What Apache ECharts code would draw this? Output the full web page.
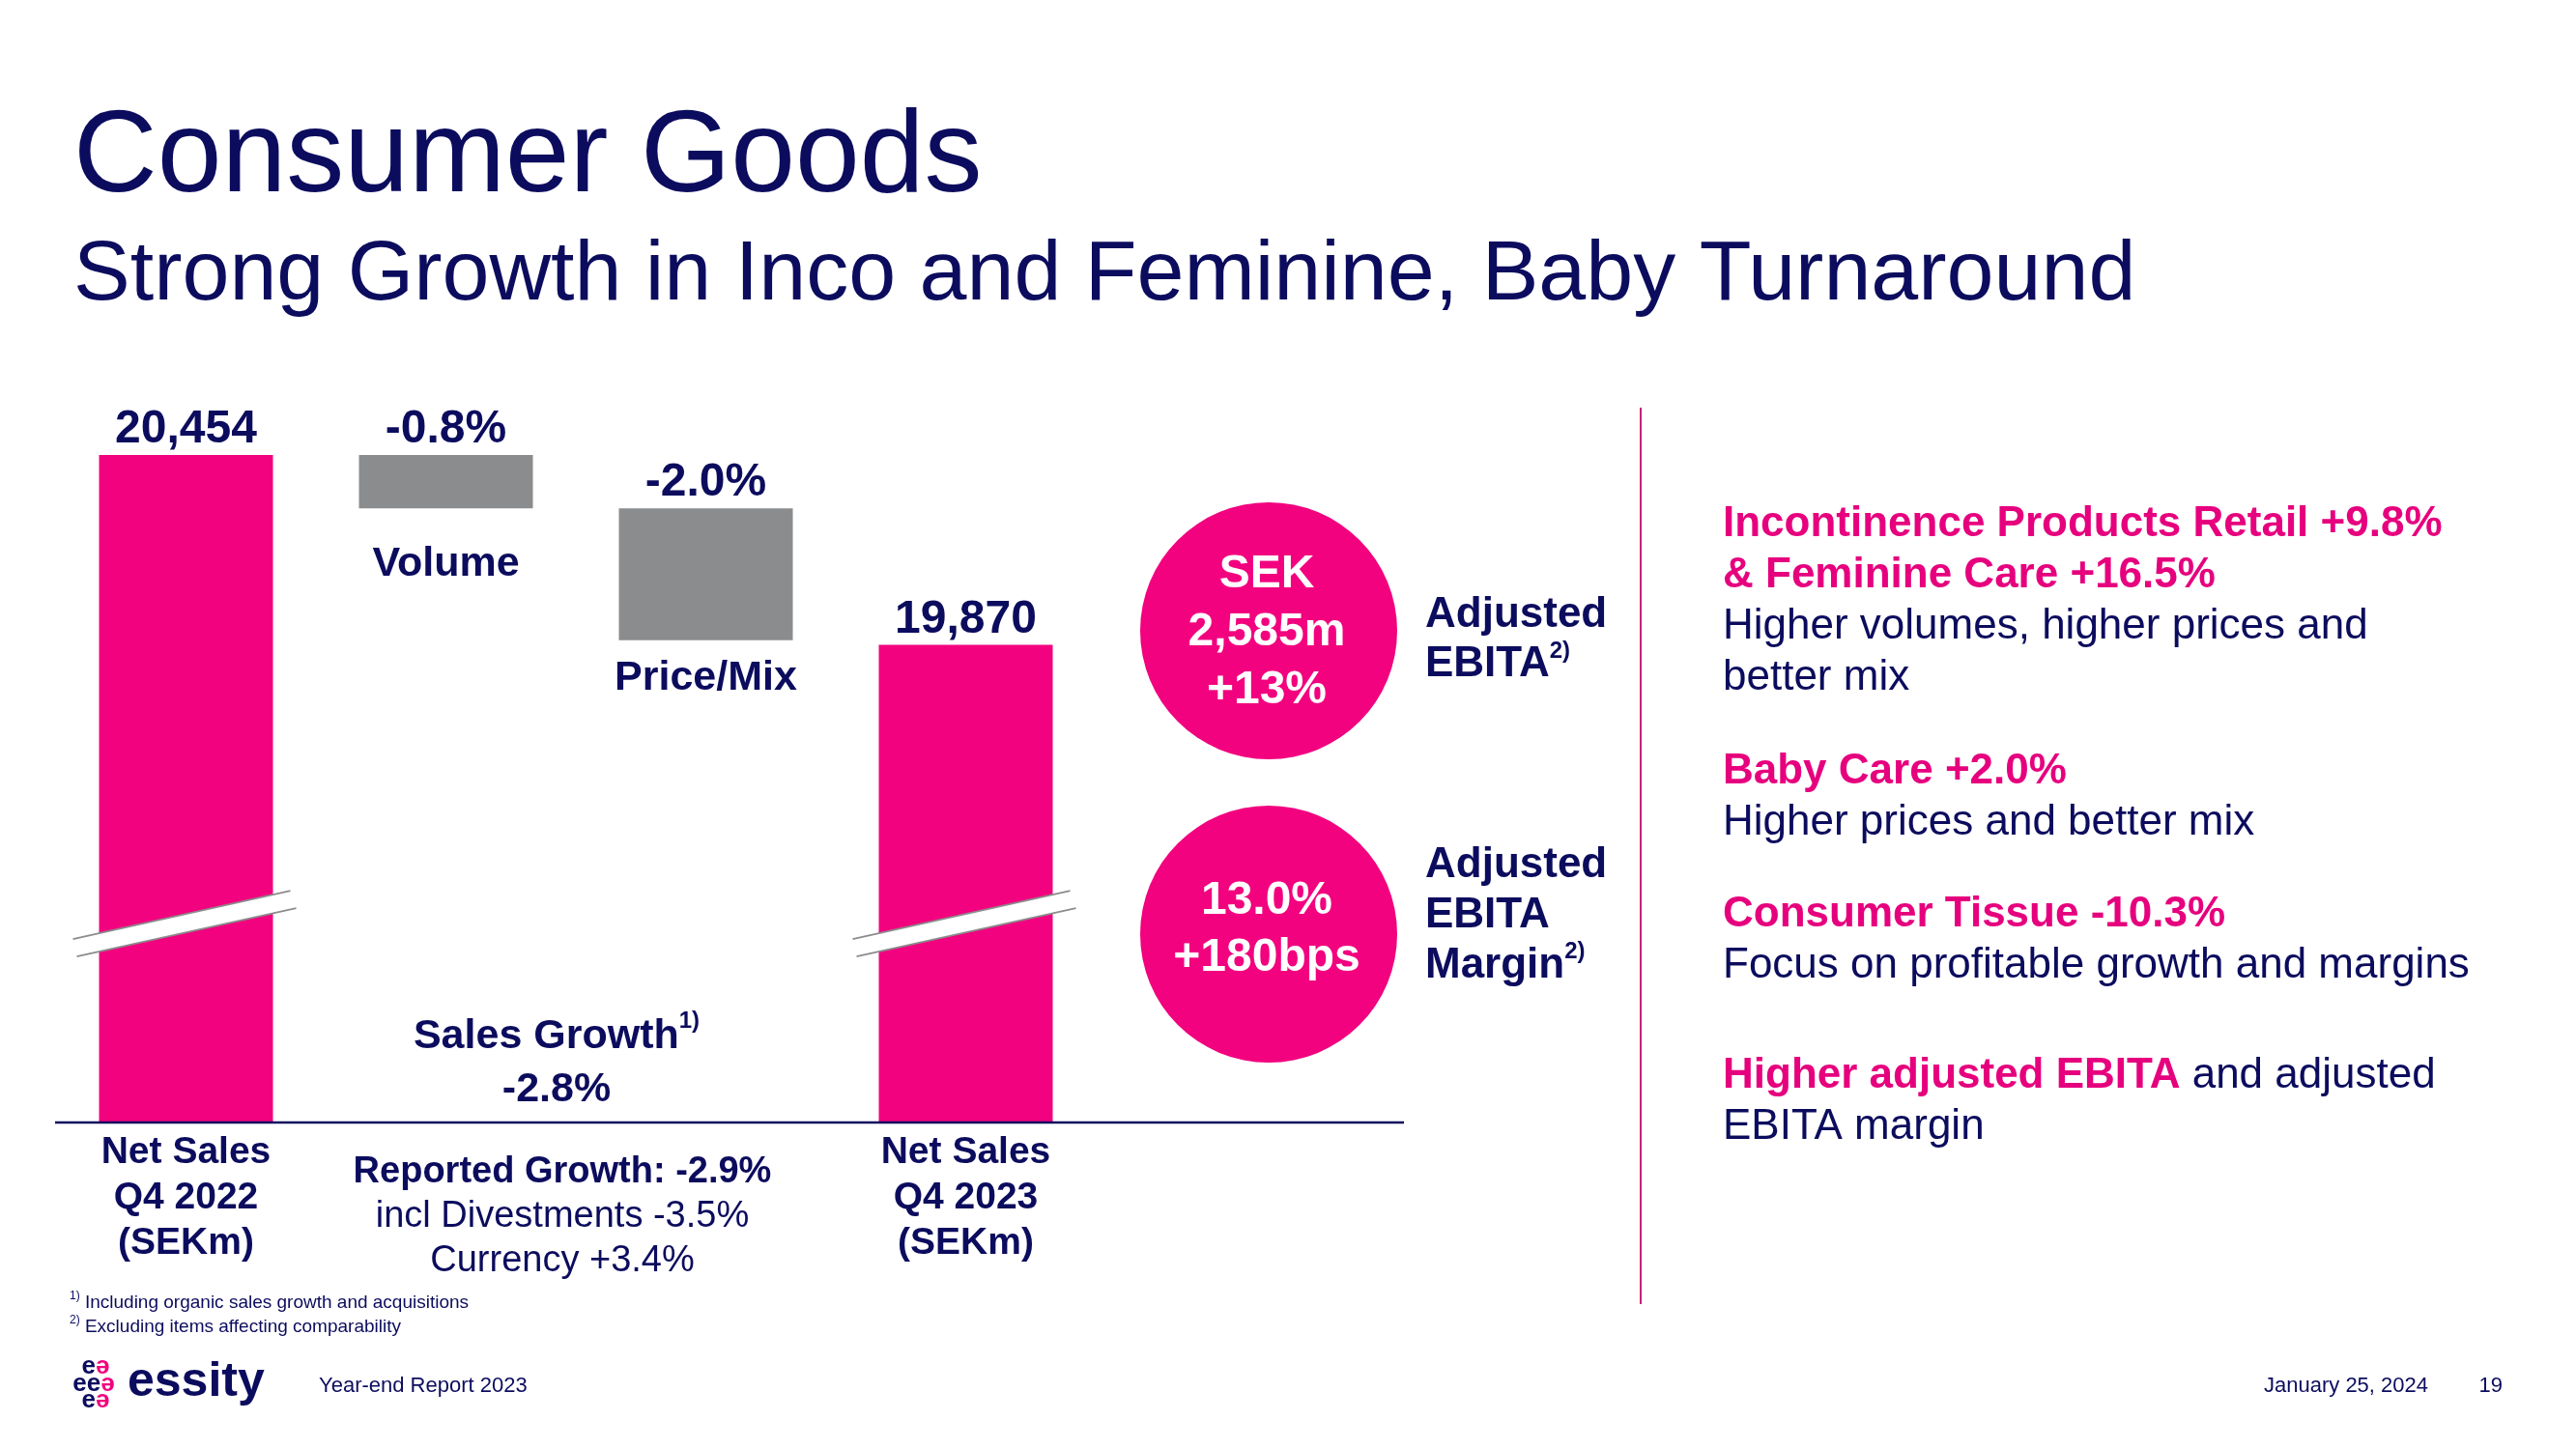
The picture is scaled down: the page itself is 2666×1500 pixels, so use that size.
<!DOCTYPE html>
<html><head><meta charset="utf-8">
<script src="https://cdn.jsdelivr.net/npm/echarts@6/dist/echarts.min.js"></script>
<style>html,body{margin:0;padding:0;background:#fff}#c{width:2666px;height:1500px}</style>
</head><body><div id="c"></div>
<script>
// ---- data ----
const categories = ['Net Sales\nQ4 2022\n(SEKm)', 'Volume', 'Price/Mix', 'Net Sales\nQ4 2023\n(SEKm)'];
const barKinds = ['total', 'delta', 'delta', 'total'];
const netSales = [20454, null, null, 19870];
const changePct = [null, -0.8, -2.0, null];
const salesGrowth = '-2.8%';
const reportedGrowth = ['Reported Growth: -2.9%', 'incl Divestments -3.5%', 'Currency +3.4%'];
const ebitaCircle = ['SEK', '2,585m', '+13%'];
const marginCircle = ['13.0%', '+180bps'];

// ---- styles ----
const NAVY = '#0c0c5e', PINK = '#f2027f', PINKTXT = '#e6007e', GREY = '#8a8c8e';
const FF = '"Liberation Sans", Arial, Helvetica, sans-serif';
const MID = 0.3465; // baseline offset of middle

// waterfall computed from the values read
let running = netSales[0];
const baseData = [], valueData = [];
categories.forEach((c, i) => {
  if (barKinds[i] === 'total') { baseData.push('-'); valueData.push(netSales[i]); running = netSales[i]; }
  else { const d = running * changePct[i] / 100; const b = running + d; baseData.push(b); valueData.push(-d); running = b; }
});
const nameDist = [0, 36, 18, 0];

const chart = echarts.init(document.getElementById('c'), null, {renderer: 'canvas'});

function txt(x, baseline, fs, text, opt) {
  opt = opt || {};
  return {type: 'text', z: 50, x: x, y: baseline - MID * fs,
    style: Object.assign({text: text, fontSize: fs, fontFamily: FF, fill: NAVY, verticalAlign: 'middle', align: 'left'}, opt)};
}
function block(x, firstBaseline, fs, lh, text, rich, align) {
  return {type: 'text', z: 50, x: x, y: firstBaseline - MID * fs - lh / 2,
    style: {text: text, rich: rich, fontSize: fs, fontFamily: FF, fill: NAVY, lineHeight: lh, verticalAlign: 'top', align: align || 'left'}};
}
const R44 = {
  h: {fontSize: 44, fontWeight: 'bold', fill: PINKTXT, fontFamily: FF, lineHeight: 53},
  b: {fontSize: 44, fill: NAVY, fontFamily: FF, lineHeight: 53}
};
const supRich = (fs, lh) => ({fontSize: fs, fontWeight: 'bold', fill: NAVY, fontFamily: FF, lineHeight: lh, verticalAlign: 'top'});
const logoRich = {n: {fill: NAVY, fontSize: 26, fontWeight: 'bold', fontFamily: FF}, p: {fill: PINK, fontSize: 26, fontWeight: 'bold', fontFamily: FF}};

const graphics = [
  txt(76, 206, 120, 'Consumer Goods'),
  txt(76, 316, 88, 'Strong Growth in Inco and Feminine, Baby Turnaround'),
  // axis baseline
  {type: 'line', z: 40, shape: {x1: 57, y1: 1162, x2: 1453, y2: 1162}, style: {stroke: NAVY, lineWidth: 2.5}},
  // divider
  {type: 'line', z: 40, shape: {x1: 1698, y1: 422, x2: 1698, y2: 1350}, style: {stroke: '#c4227a', lineWidth: 2}},
  // sales growth
  block(576, 1088, 43, 55, '{a|Sales Growth}{s|1)}\n{a|' + salesGrowth + '}', {
    a: {fontSize: 43, fontWeight: 'bold', fill: NAVY, fontFamily: FF, lineHeight: 55},
    s: supRich(24, 34)
  }, 'center'),
  block(582, 1227, 38, 46, '{a|' + reportedGrowth[0] + '}\n{b|' + reportedGrowth[1] + '}\n{b|' + reportedGrowth[2] + '}', {
    a: {fontSize: 38, fontWeight: 'bold', fill: NAVY, fontFamily: FF, lineHeight: 46},
    b: {fontSize: 38, fill: NAVY, fontFamily: FF, lineHeight: 46}
  }, 'center'),
  // circles
  {type: 'circle', z: 30, shape: {cx: 1313, cy: 653, r: 133}, style: {fill: PINK}},
  {type: 'circle', z: 30, shape: {cx: 1313, cy: 967, r: 133}, style: {fill: PINK}},
  {type: 'text', z: 50, x: 1311, y: 655, style: {text: ebitaCircle.join('\n'), fontSize: 48, fontWeight: 'bold', fontFamily: FF, fill: '#fff', lineHeight: 60, align: 'center', verticalAlign: 'middle'}},
  {type: 'text', z: 50, x: 1311, y: 962, style: {text: marginCircle.join('\n'), fontSize: 48, fontWeight: 'bold', fontFamily: FF, fill: '#fff', lineHeight: 59, align: 'center', verticalAlign: 'middle'}},
  block(1475, 652, 44, 51, '{a|Adjusted}\n{a|EBITA}{s|2)}', {
    a: {fontSize: 44, fontWeight: 'bold', fill: NAVY, fontFamily: FF, lineHeight: 51}, s: supRich(24, 36)
  }),
  block(1475, 911, 44, 52, '{a|Adjusted}\n{a|EBITA}\n{a|Margin}{s|2)}', {
    a: {fontSize: 44, fontWeight: 'bold', fill: NAVY, fontFamily: FF, lineHeight: 52}, s: supRich(24, 36)
  }),
  // right column
  block(1783, 558, 44, 53, '{h|Incontinence Products Retail +9.8%}\n{h|& Feminine Care +16.5%}\n{b|Higher volumes, higher prices and}\n{b|better mix}', R44),
  block(1783, 814, 44, 53, '{h|Baby Care +2.0%}\n{b|Higher prices and better mix}', R44),
  block(1783, 962, 44, 53, '{h|Consumer Tissue -10.3%}\n{b|Focus on profitable growth and margins}', R44),
  block(1783, 1129, 44, 53, '{h|Higher adjusted EBITA}{b| and adjusted}\n{b|EBITA margin}', R44),
  // footnotes
  block(72, 1355, 19, 25, '{s|1)} {t|Including organic sales growth and acquisitions}\n{s|2)} {t|Excluding items affecting comparability}', {
    s: {fontSize: 12, fill: NAVY, fontFamily: FF, lineHeight: 18, verticalAlign: 'top'},
    t: {fontSize: 19, fill: NAVY, fontFamily: FF, lineHeight: 25}
  }),
  // footer
  txt(330, 1443, 22, 'Year-end Report 2023'),
  txt(2343, 1443, 22, 'January 25, 2024'),
  txt(2590, 1443, 22, '19', {align: 'right'}),
  // logo
  txt(132, 1449, 50, 'essity', {fontWeight: 'bold'}),
  {type: 'text', z: 50, x: 99, y: 1415, style: {text: '{n|e}{p|ə}', rich: logoRich, align: 'center', verticalAlign: 'middle'}},
  {type: 'text', z: 50, x: 97, y: 1433, style: {text: '{n|ee}{p|ə}', rich: logoRich, align: 'center', verticalAlign: 'middle'}},
  {type: 'text', z: 50, x: 99, y: 1450, style: {text: '{n|e}{p|ə}', rich: logoRich, align: 'center', verticalAlign: 'middle'}}
];

chart.setOption({
  animation: false,
  backgroundColor: '#ffffff',
  grid: {left: 58, width: 1076, top: 422, bottom: 338, containLabel: false},
  xAxis: {
    type: 'category', data: categories,
    axisLine: {show: false}, axisTick: {show: false},
    axisLabel: {interval: 0, margin: 8, color: NAVY, fontSize: 39, fontWeight: 'bold', fontFamily: FF, lineHeight: 47,
      formatter: (v, i) => barKinds[i] === 'total' ? v : ''}
  },
  yAxis: {type: 'value', min: 18400, max: 20600, show: false, splitLine: {show: false}},
  series: [
    {
      type: 'bar', stack: 'wf', barWidth: 180, silent: true,
      itemStyle: {color: 'rgba(0,0,0,0)'},
      data: baseData.map((v, i) => ({value: v, label: {distance: nameDist[i]}})),
      label: {show: true, position: 'insideTop', color: NAVY, fontSize: 43, fontWeight: 'bold', fontFamily: FF,
        formatter: p => barKinds[p.dataIndex] === 'delta' ? categories[p.dataIndex] : ''}
    },
    {
      type: 'bar', stack: 'wf', barWidth: 180,
      data: valueData,
      itemStyle: {color: p => barKinds[p.dataIndex] === 'total' ? PINK : GREY},
      label: {show: true, position: 'top', distance: 2, color: NAVY, fontSize: 48, fontWeight: 'bold', fontFamily: FF,
        formatter: p => barKinds[p.dataIndex] === 'total'
          ? netSales[p.dataIndex].toLocaleString('en-US')
          : changePct[p.dataIndex].toFixed(1) + '%'}
    }
  ],
  graphic: {elements: graphics}
});

// axis break marks on the total bars
const breakValue = 19015;
const breaks = [];
barKinds.forEach((k, i) => {
  if (k !== 'total') return;
  const [cx, cy] = chart.convertToPixel({gridIndex: 0}, [i, breakValue]);
  const uL = [cx - 117, cy + 17], uR = [cx + 108, cy - 33], lL = [cx - 113, cy + 35], lR = [cx + 114, cy - 15];
  breaks.push({type: 'polygon', z: 100, shape: {points: [uL, uR, lR, lL]}, style: {fill: '#fff'}});
  breaks.push({type: 'line', z: 101, shape: {x1: uL[0], y1: uL[1], x2: uR[0], y2: uR[1]}, style: {stroke: '#8c8c8c', lineWidth: 1.6}});
  breaks.push({type: 'line', z: 101, shape: {x1: lL[0], y1: lL[1], x2: lR[0], y2: lR[1]}, style: {stroke: '#8c8c8c', lineWidth: 1.6}});
});
chart.setOption({graphic: {elements: graphics.concat(breaks)}}, {replaceMerge: ['graphic']});
</script></body></html>
